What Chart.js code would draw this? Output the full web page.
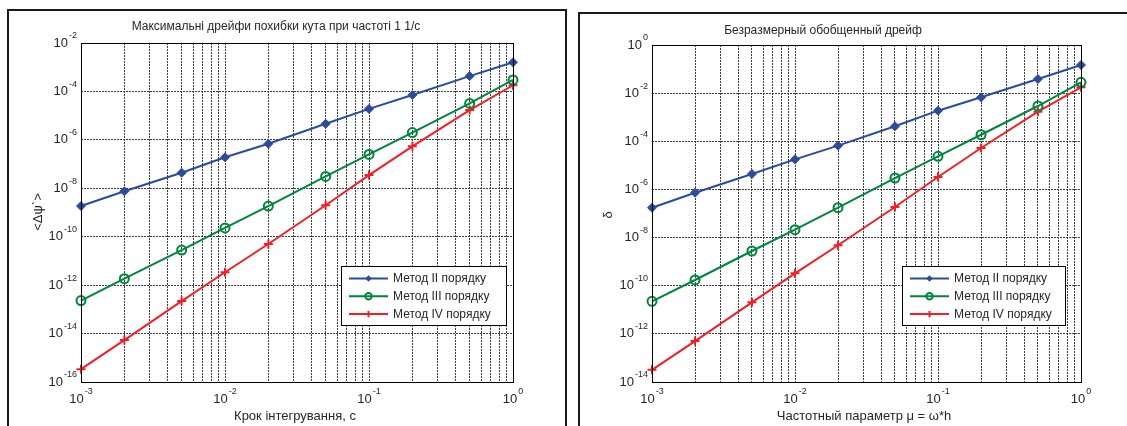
<!DOCTYPE html>
<html>
<head>
<meta charset="utf-8">
<script src="https://cdn.jsdelivr.net/npm/chart.js@4.4.0/dist/chart.umd.min.js"></script>
<style>
  body { margin: 0; background: #fff; width: 1127px; height: 426px; overflow: hidden; position: relative; }
  canvas { position: absolute; top: 0; }
  .box { position: absolute; border: 2px solid #1a1a1a; pointer-events: none; }
</style>
</head>
<body>
<canvas id="driftChart" width="570" height="426" style="left:0"></canvas>
<canvas id="deltaChart" width="557" height="426" style="left:570px"></canvas>
<div class="box" style="left:7px;top:9px;width:556px;height:440px"></div>
<div class="box" style="left:578px;top:12px;width:600px;height:440px"></div>
<script>
// integration step h (same for both plots)
const steps = [0.001, 0.002, 0.005, 0.01, 0.02, 0.05, 0.1, 0.2, 0.5, 1];

// left plot: max angle error drift at 1 1/s
const driftII  = [1.85e-9, 7.5e-9, 4.4e-8, 1.9e-7, 6.9e-7, 4.6e-6, 1.9e-5, 7.1e-5, 4.3e-4, 1.6e-3];
const driftIII = [2.3e-13, 1.85e-12, 2.8e-11, 2.3e-10, 1.85e-9, 3.1e-8, 2.5e-7, 2.0e-6, 3.2e-5, 3.0e-4];
const driftIV  = [3.4e-16, 5.4e-15, 2.2e-13, 3.4e-12, 5.0e-11, 2.0e-9, 3.5e-8, 5.4e-7, 1.7e-5, 1.8e-4];

// right plot: dimensionless drift
const deltaII  = [1.74e-7, 7.3e-7, 4.4e-6, 1.78e-5, 6.6e-5, 4.2e-4, 1.87e-3, 6.7e-3, 3.86e-2, 0.148];
const deltaIII = [2.24e-11, 1.73e-10, 2.77e-9, 2.12e-8, 1.74e-7, 2.98e-6, 2.38e-5, 1.87e-4, 2.92e-3, 2.82e-2];
const deltaIV  = [3.2e-14, 5.0e-13, 2.04e-11, 3.27e-10, 4.8e-9, 1.86e-7, 3.28e-6, 5.26e-5, 1.7e-3, 1.75e-2];

const seriesNames = ['Метод II порядку', 'Метод III порядку', 'Метод IV порядку'];

// tick labels (powers of ten)
const xTickExps = [-3, -2, -1, 0];
const yTickExpsDrift = [-16, -14, -12, -10, -8, -6, -4, -2];
const yTickExpsDelta = [-14, -12, -10, -8, -6, -4, -2, 0];

// x grid: 1..9 in each decade
const xGrid = [];
for (let e = -3; e < 0; e++) for (let m = 1; m < 10; m++) xGrid.push(m * 10 ** e);
xGrid.push(1);

const FONT = '"Liberation Sans", Arial, sans-serif';
const styles = [
  { color: '#2c4a9e', pointStyle: 'rectRot', radius: 4.5, fill: true },
  { color: '#00853e', pointStyle: 'circle', radius: 4.5, fill: false },
  { color: '#ee1f26', pointStyle: 'cross', radius: 4.5, fill: false }
];

function drawPower(ctx, x, y, e, align) {
  ctx.font = '13px ' + FONT;
  const wb = ctx.measureText('10').width;
  ctx.font = '9px ' + FONT;
  const we = ctx.measureText(String(e)).width;
  const total = wb + 1 + we;
  const x0 = align === 'center' ? x - total / 2 : x - total;
  ctx.textAlign = 'left';
  ctx.textBaseline = 'middle';
  ctx.font = '13px ' + FONT;
  ctx.fillText('10', x0, y);
  ctx.font = '9px ' + FONT;
  ctx.fillText(String(e), x0 + wb + 1, y - 7);
}

function drawMarker(ctx, st, x, y, r) {
  ctx.save();
  ctx.strokeStyle = st.color;
  ctx.fillStyle = st.color;
  ctx.lineWidth = st.pointStyle === 'rectRot' ? 1 : 2;
  ctx.beginPath();
  if (st.pointStyle === 'rectRot') {
    ctx.moveTo(x, y - r); ctx.lineTo(x + r, y); ctx.lineTo(x, y + r); ctx.lineTo(x - r, y); ctx.closePath();
    ctx.fill();
  } else if (st.pointStyle === 'circle') {
    ctx.arc(x, y, r, 0, Math.PI * 2);
    ctx.stroke();
  } else {
    ctx.moveTo(x - r, y); ctx.lineTo(x + r, y); ctx.moveTo(x, y - r); ctx.lineTo(x, y + r);
    ctx.stroke();
  }
  ctx.restore();
}

const matlabLook = {
  id: 'matlabLook',
  afterDraw(chart, args, o) {
    const { ctx, chartArea: a, scales } = chart;
    ctx.save();
    // axes box
    ctx.strokeStyle = '#000';
    ctx.lineWidth = 1;
    ctx.strokeRect(Math.round(a.left) + 0.5, Math.round(a.top) + 0.5,
      Math.round(a.right - a.left), Math.round(a.bottom - a.top));

    ctx.fillStyle = '#262626';
    xTickExps.forEach(e => drawPower(ctx, scales.x.getPixelForValue(10 ** e), a.bottom + 17, e, 'center'));
    o.yExps.forEach(e => drawPower(ctx, a.left - 4, scales.y.getPixelForValue(10 ** e), e, 'right'));

    // title + axis labels
    ctx.textAlign = 'center';
    ctx.textBaseline = 'middle';
    ctx.font = '12px ' + FONT;
    ctx.fillText(o.title, o.titleX, o.titleY);
    ctx.font = '13px ' + FONT;
    ctx.fillText(o.xLabel, o.xLabelX, 416);
    ctx.save();
    ctx.translate(o.yLabelX, o.yLabelY);
    ctx.rotate(-Math.PI / 2);
    ctx.fillText(o.yLabel, 0, 0);
    ctx.restore();

    // legend
    const L = o.legend;
    ctx.fillStyle = '#fff';
    ctx.fillRect(L.x, L.y, L.w, L.h);
    ctx.strokeStyle = '#000';
    ctx.lineWidth = 1;
    ctx.strokeRect(L.x + 0.5, L.y + 0.5, L.w, L.h);
    chart.data.datasets.forEach((ds, i) => {
      const cy = L.y + 12.5 + i * 17.8;
      const st = styles[i];
      ctx.strokeStyle = st.color;
      ctx.lineWidth = 2;
      ctx.beginPath();
      ctx.moveTo(L.x + 8, cy);
      ctx.lineTo(L.x + 47, cy);
      ctx.stroke();
      drawMarker(ctx, st, L.x + 27.5, cy, 3.2);
      ctx.fillStyle = '#262626';
      ctx.font = '12px ' + FONT;
      ctx.textAlign = 'left';
      ctx.fillText(ds.label, L.x + 52, cy + 0.5);
    });
    ctx.restore();
  }
};

function makeChart(id, seriesValues, yMinExp, yMaxExp, padding, look) {
  const datasets = seriesValues.map((vals, i) => ({
    label: seriesNames[i],
    data: steps.map((x, k) => ({ x: x, y: vals[k] })),
    borderColor: styles[i].color,
    backgroundColor: styles[i].color,
    borderWidth: 2,
    pointStyle: styles[i].pointStyle,
    pointRadius: styles[i].radius,
    pointBorderWidth: styles[i].fill ? 1 : 2,
    pointBorderColor: styles[i].color,
    pointBackgroundColor: styles[i].fill ? styles[i].color : 'rgba(0,0,0,0)',
    tension: 0,
    clip: false
  }));
  return new Chart(document.getElementById(id), {
    type: 'line',
    data: { datasets: datasets },
    options: {
      responsive: false,
      animation: false,
      layout: { padding: padding },
      plugins: { legend: { display: false }, title: { display: false }, tooltip: { enabled: false }, matlabLook: look },
      scales: {
        x: {
          type: 'logarithmic', min: 1e-3, max: 1,
          afterBuildTicks: s => { s.ticks = xGrid.map(v => ({ value: v })); },
          ticks: { display: false },
          grid: { color: '#3c3c3c', lineWidth: 1, drawTicks: false },
          border: { display: false, dash: [2, 1] }
        },
        y: {
          type: 'logarithmic', min: 10 ** yMinExp, max: 10 ** yMaxExp,
          afterBuildTicks: s => { s.ticks = look.yExps.map(e => ({ value: 10 ** e })); },
          ticks: { display: false },
          grid: { color: '#3c3c3c', lineWidth: 1, drawTicks: false },
          border: { display: false, dash: [2, 1] }
        }
      }
    },
    plugins: [matlabLook]
  });
}

makeChart('driftChart', [driftII, driftIII, driftIV], -16, -2,
  { left: 81, right: 57, top: 43, bottom: 44 },
  {
    yExps: yTickExpsDrift,
    title: 'Максимальні дрейфи похибки кута при частоті 1 1/с', titleX: 276, titleY: 27,
    xLabel: 'Крок інтегрування, с', xLabelX: 295,
    yLabel: '<Δψ`>', yLabelX: 38, yLabelY: 212,
    legend: { x: 341, y: 266, w: 165, h: 59 }
  });

makeChart('deltaChart', [deltaII, deltaIII, deltaIV], -14, 0,
  { left: 82, right: 46, top: 45, bottom: 44 },
  {
    yExps: yTickExpsDelta,
    title: 'Безразмерный обобщенный дрейф', titleX: 253, titleY: 31,
    xLabel: 'Частотный параметр μ = ω*h', xLabelX: 294,
    yLabel: 'δ', yLabelX: 38, yLabelY: 215,
    legend: { x: 332, y: 266, w: 163, h: 59 }
  });
</script>
</body>
</html>
